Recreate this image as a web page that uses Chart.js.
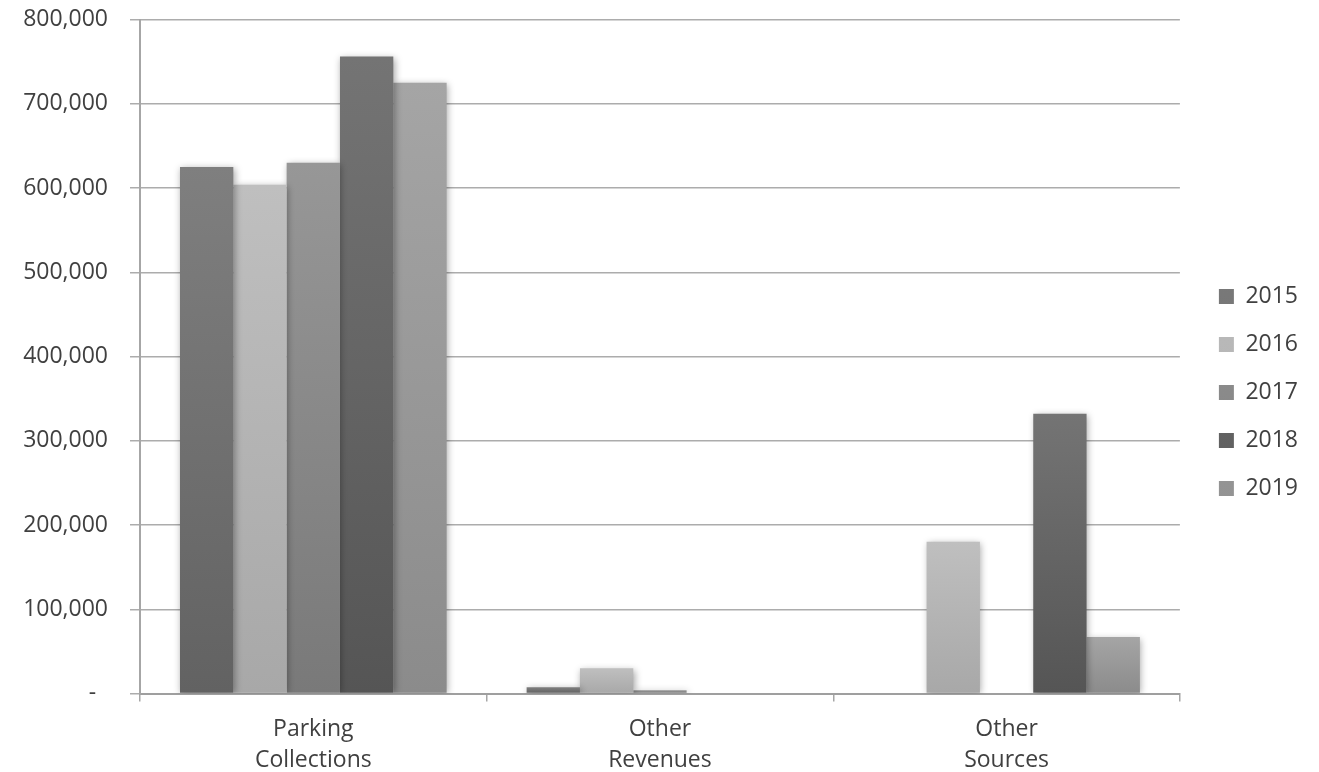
<!DOCTYPE html>
<html>
<head>
<meta charset="utf-8">
<title>Revenue by Source, 2015–2019</title>
<script src="https://cdn.jsdelivr.net/npm/chart.js@4/dist/chart.umd.min.js"></script>
<style>
  html, body { margin: 0; padding: 0; background: #ffffff; }
  #wrap { width: 1319px; height: 772px; }
</style>
</head>
<body>
<div id="wrap"><canvas id="chart" width="1319" height="772"></canvas></div>
<script>
// Categories (multi-line axis labels) and series
const categories = [['Parking', 'Collections'], ['Other', 'Revenues'], ['Other', 'Sources']];
const years = ['2015', '2016', '2017', '2018', '2019'];

const values2015 = [625000, 7500, 0];
const values2016 = [604000, 30000, 180000];
const values2017 = [630000, 4000, 0];
const values2018 = [756000, 0, 332000];
const values2019 = [725000, 0, 67000];

const yTicks = [0, 100000, 200000, 300000, 400000, 500000, 600000, 700000, 800000];

// Gradient shades per series: [top, bottom, legend swatch]
const shades = [
  ['#7f7f7f', '#626262', '#727272'],
  ['#bfbfbf', '#a8a8a8', '#b4b4b4'],
  ['#979797', '#797979', '#888888'],
  ['#747474', '#555555', '#646464'],
  ['#a5a5a5', '#8b8b8b', '#989898']
];

const FONT = '"Open Sans", "DejaVu Sans", sans-serif';
const TEXT = '#404040';

// Vertical gradient fill for each bar, running from its top to the baseline
function barFill(top, bottom, swatch) {
  return (ctx) => {
    const chart = ctx.chart;
    if (ctx.type !== 'data' || !chart.chartArea) return swatch;
    const y = chart.scales.y;
    const y0 = y.getPixelForValue(ctx.raw);
    const y1 = y.getPixelForValue(0);
    if (y1 - y0 < 1) return top;
    const g = chart.ctx.createLinearGradient(0, y0, 0, y1);
    g.addColorStop(0, top);
    g.addColorStop(1, bottom);
    return g;
  };
}

const seriesValues = [values2015, values2016, values2017, values2018, values2019];
const datasets = years.map((yr, i) => ({
  label: yr,
  data: seriesValues[i],
  backgroundColor: barFill(shades[i][0], shades[i][1], shades[i][2]),
  borderWidth: 0,
  categoryPercentage: 1 / 1.3,
  barPercentage: 1
}));

// Soft drop shadow behind the bars
const barShadow = {
  id: 'barShadow',
  beforeDatasetsDraw(chart) {
    const c = chart.ctx;
    c.save();
    c.shadowColor = 'rgba(0,0,0,0.35)';
    c.shadowBlur = 7;
    c.shadowOffsetX = 1.5;
    c.shadowOffsetY = 1.5;
  },
  afterDatasetsDraw(chart) {
    chart.ctx.restore();
  }
};

function build() {
  new Chart(document.getElementById('chart'), {
    type: 'bar',
    data: { labels: categories, datasets },
    plugins: [barShadow],
    options: {
      responsive: false,
      animation: false,
      devicePixelRatio: 1,
      layout: { padding: { top: 13, right: 11, bottom: 0, left: 0 } },
      plugins: {
        tooltip: { enabled: false },
        legend: {
          position: 'right',
          align: 'center',
          labels: {
            boxWidth: 15,
            boxHeight: 15,
            padding: 25,
            color: TEXT,
            font: { family: FONT, size: 23 }
          }
        }
      },
      scales: {
        x: {
          grid: {
            drawOnChartArea: false,
            drawTicks: true,
            tickLength: 8,
            color: '#a6a6a6',
            lineWidth: 1.5
          },
          border: { display: true, color: '#9f9f9f', width: 2 },
          ticks: {
            color: TEXT,
            padding: 12,
            maxRotation: 0,
            font: { family: FONT, size: 23, lineHeight: 1.37 }
          },
          afterFit(s) { s.height = 78.5; }
        },
        y: {
          min: 0,
          max: 800000,
          afterBuildTicks(s) { s.ticks = yTicks.map(v => ({ value: v })); },
          grid: {
            color: '#acacac',
            lineWidth: 1.5,
            tickLength: 10,
            tickColor: '#acacac'
          },
          border: { display: true, color: '#a6a6a6', width: 2 },
          ticks: {
            color: TEXT,
            padding: 22,
            font: { family: FONT, size: 23 },
            callback: (v) => v === 0 ? '-  ' : Number(v).toLocaleString('en-US')
          },
          afterFit(s) { s.width = 140; s.paddingTop = 19.5; s.paddingBottom = 0; }
        },
        // Empty spacer between the plot and the legend
        gap: {
          type: 'linear',
          position: 'right',
          grid: { display: false, drawTicks: false },
          border: { display: false },
          ticks: { display: false },
          afterFit(s) { s.width = 14; s.paddingTop = 0; s.paddingBottom = 0; }
        }
      }
    }
  });
}

if (document.fonts && document.fonts.load) {
  document.fonts.load('23px "Open Sans"').then(build, build);
} else {
  build();
}
</script>
</body>
</html>
